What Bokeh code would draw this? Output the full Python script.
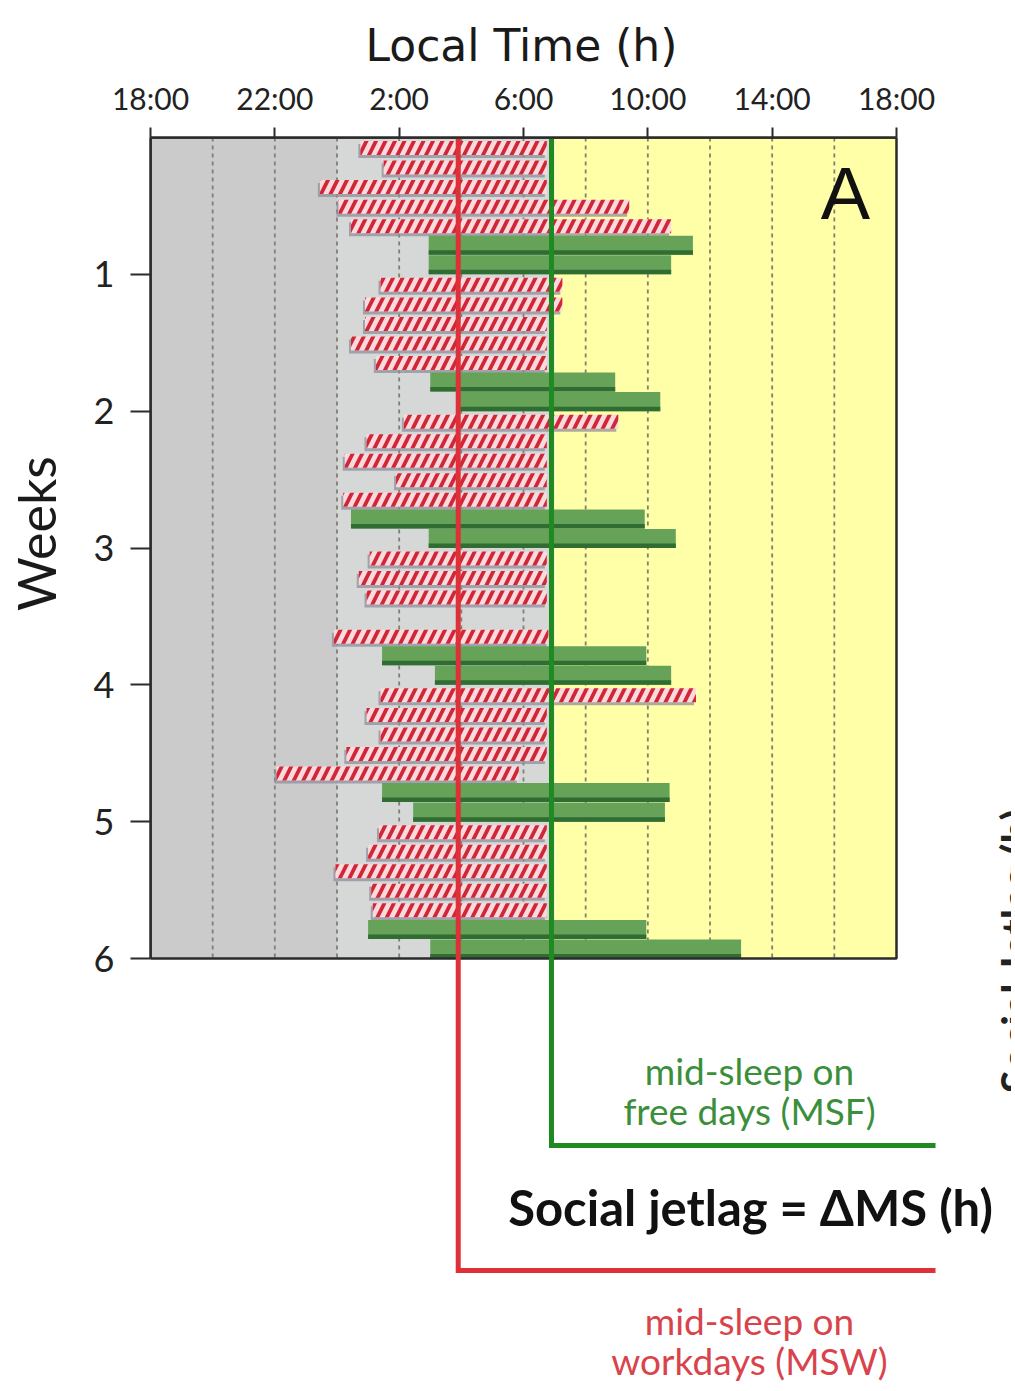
import math
import numpy as np
from bokeh.plotting import figure
from bokeh.models import Range1d, FixedTicker
from bokeh.layouts import row
from bokeh.embed import file_html
from bokeh.resources import INLINE
from bokeh.core.properties import value

nan = float("nan")

# ---------------- data ----------------
# hours on a continuous clock: 18 = 18:00, 24 = midnight, 30 = 6:00, 42 = 18:00 next day
days = list(range(1, 43))
day_type = (["work"] * 5 + ["free"] * 2) * 6
sleep_onset = [24.75, 25.50, 23.45, 24.05, 24.45, 26.95, 26.95,
               25.40, 24.90, 24.90, 24.45, 25.25, 27.00, 27.90,
               26.15, 24.95, 24.25, 25.90, 24.20, 24.45, 26.95,
               25.05, 24.70, 24.95, nan, 23.90, 25.45, 27.15,
               25.40, 24.95, 25.40, 24.30, 22.05, 25.45, 26.45,
               25.35, 25.00, 23.95, 25.10, 25.15, 25.00, 27.00]
wake_up = [30.75, 30.75, 30.75, 33.40, 34.75, 35.45, 34.75,
           31.25, 31.25, 30.75, 30.75, 30.75, 32.95, 34.40,
           33.05, 30.75, 30.75, 30.75, 30.75, 33.90, 34.90,
           30.75, 30.75, 30.75, nan, 30.80, 33.95, 34.75,
           35.55, 30.75, 30.75, 30.75, 29.85, 34.70, 34.55,
           30.75, 30.75, 30.75, 30.75, 30.75, 33.95, 37.00]
msw = 27.9   # mid-sleep on workdays
msf = 30.9   # mid-sleep on free days

x_ticks = [18, 22, 26, 30, 34, 38, 42]
x_tick_labels = ["18:00", "22:00", "2:00", "6:00", "10:00", "14:00", "18:00"]
week_ticks = [1, 2, 3, 4, 5, 6]
grid_hours = [20, 22, 24, 26, 28, 30, 32, 34, 36, 38, 40]
bg_start = [18, 24, 31]
bg_end = [24, 31, 42]

# ---------------- layout (page pixels) ----------------
ORG = 2                      # where the canvas lands on the page
LAB_W = 70                   # narrow strip holding the "Weeks" title
PAGE_R, PAGE_B = 1013, 1389
BOX_L, BOX_R, BOX_T, BOX_B = 152, 898, 139, 960
PX_H = (BOX_R - BOX_L) / 24.0     # px per hour
PX_W = (BOX_B - BOX_T) / 6.0      # px per week
H = PAGE_B - ORG
W_MAIN = PAGE_R - ORG - LAB_W


def hx(px):      # page pixel -> hours
    return 18 + (px - BOX_L) / PX_H


def wy(py):      # page pixel -> weeks
    return (py - BOX_T) / PX_W


FONT = "Lato"
AX = "#2b2b2b"

y_rng = Range1d(wy(PAGE_B), 0)

p = figure(width=W_MAIN, height=H,
           x_range=Range1d(18, hx(PAGE_R)), y_range=y_rng,
           output_backend="svg", toolbar_location=None, x_axis_location="above",
           min_border_left=BOX_L - ORG - LAB_W, min_border_top=BOX_T - ORG,
           min_border_right=0, min_border_bottom=0)
p.outline_line_color = None
p.grid.visible = False
p.background_fill_color = "white"
p.border_fill_color = "white"

# x-axis title as the plot title, placed over the plot box
p.title.text = "Local Time (h)"
p.title.align = "left"
p.title.offset = 215
p.title.standoff = 12
p.title.text_font = "DejaVu Sans"
p.title.text_font_style = "normal"
p.title.text_font_size = "44px"
p.title.text_color = "#1a1a1a"

xa = p.xaxis[0]
xa.ticker = FixedTicker(ticks=x_ticks)
xa.major_label_overrides = {t: l for t, l in zip(x_ticks, x_tick_labels)}
xa.bounds = (18, 42)
xa.major_label_text_font = FONT
xa.major_label_text_font_size = "30px"
xa.major_label_text_color = "#222222"
xa.major_label_standoff = 12
xa.major_tick_out = 10
xa.major_tick_in = 0
xa.minor_tick_out = 0
xa.minor_tick_in = 0
xa.major_tick_line_width = 2
xa.major_tick_line_color = AX
xa.axis_line_width = 2.5
xa.axis_line_color = AX

ya = p.yaxis[0]
ya.ticker = FixedTicker(ticks=week_ticks)
ya.bounds = (0, 6)
ya.major_label_text_font = FONT
ya.major_label_text_font_size = "36px"
ya.major_label_text_color = "#222222"
ya.major_label_standoff = 16
ya.major_tick_out = 20
ya.major_tick_in = 0
ya.minor_tick_out = 0
ya.minor_tick_in = 0
ya.major_tick_line_width = 2
ya.major_tick_line_color = AX
ya.axis_line_width = 2.5
ya.axis_line_color = AX

# background: evening, night, daylight
p.quad(left=bg_start, right=bg_end, top=[0] * 3, bottom=[6] * 3,
       fill_color=["#cbcbcb", "#d6d8d8", "#ffffa8"], line_color=None)

# dashed vertical grid
p.segment(x0=grid_hours, x1=grid_hours, y0=[0] * len(grid_hours), y1=[6] * len(grid_hours),
          line_color="#7f7f74", line_width=1.8, line_dash="4 4")

d = np.array(days, dtype=float)
on = np.array(sleep_onset)
off = np.array(wake_up)
is_work = np.array([t == "work" for t in day_type])
is_free = ~is_work
day_top = (d - 1) / 7
day_bot = d / 7
dy = 1 / PX_W   # one pixel in weeks
dx = 1 / PX_H   # one pixel in hours

# workday bars: shadow + hatched bar
w_top = day_top[is_work] + 3.5 * dy
w_bot = day_top[is_work] + 17.5 * dy
p.quad(left=on[is_work] - 2 * dx, right=off[is_work] - 2 * dx,
       top=w_top + 3 * dy, bottom=w_bot + 3 * dy,
       fill_color="#8f8f9e", fill_alpha=0.75, line_color=None)
p.quad(left=on[is_work], right=off[is_work], top=w_top, bottom=w_bot,
       fill_color="#fbd9dd", line_color=None,
       hatch_pattern="/", hatch_color="#cf2737", hatch_weight=3.8, hatch_scale=19)

# free-day bars: green with darker lower edge
f_top = day_top[is_free] + 0.5 * dy
f_bot = day_bot[is_free]
p.quad(left=on[is_free], right=off[is_free], top=f_top, bottom=f_bot,
       fill_color="#66a257", line_color=None)
p.quad(left=on[is_free], right=off[is_free], top=f_bot - 4.5 * dy, bottom=f_bot,
       fill_color="#2f6d33", line_color=None)

# plot box
p.quad(left=[18], right=[42], top=[0], bottom=[6], fill_color=None,
       line_color=AX, line_width=2.5)

# mid-sleep lines
x_out = hx(937)
y_msf = wy(1147)
y_msw = wy(1272)
p.line(x=[msf, msf, x_out], y=[0, y_msf, y_msf], line_color="#1f8a22", line_width=5,
       line_join="miter")
p.line(x=[msw, msw, x_out], y=[0, y_msw, y_msw], line_color="#de3038", line_width=5,
       line_join="miter")

xc = hx(751)
p.text(x=[xc, xc], y=[wy(1072), wy(1112)],
       text=["mid-sleep on", "free days (MSF)"], text_font=value(FONT),
       text_font_size="37px", text_color="#3b8f3b", text_align="center",
       text_baseline="middle")
p.text(x=[xc, xc], y=[wy(1322), wy(1362)],
       text=["mid-sleep on", "workdays (MSW)"], text_font=value(FONT),
       text_font_size="37px", text_color="#d8434c", text_align="center",
       text_baseline="middle")
p.text(x=[hx(752)], y=[wy(1208)],
       text=["Social jetlag = \u0394MS (h)"], text_font=value(FONT),
       text_font_style="bold", text_font_size="49px", text_color="#111111",
       text_align="center", text_baseline="middle")

# panel letter
p.text(x=[hx(847)], y=[wy(195)], text=["A"],
       text_font=value("Liberation Sans"), text_font_size="74px",
       text_color="#111111", text_align="center", text_baseline="middle")

# neighbouring panel's axis title, cut off at the right edge
p.text(x=[hx(992)], y=[wy(952)], text=["Social Jetlag (h)"],
       angle=math.pi / 2, text_font=value(FONT), text_font_style="bold",
       text_font_size="42px", text_color="#222222", text_align="center",
       text_baseline="top")

# ---------------- strip with the y-axis title ----------------
lab = figure(width=LAB_W, height=H, x_range=Range1d(ORG, ORG + LAB_W), y_range=y_rng,
             output_backend="svg", toolbar_location=None,
             x_axis_location=None, y_axis_location=None,
             min_border_left=0, min_border_right=0,
             min_border_top=BOX_T - ORG, min_border_bottom=0)
lab.outline_line_color = None
lab.grid.visible = False
lab.background_fill_color = "white"
lab.border_fill_color = "white"
lab.text(x=[37], y=[wy(535)], text=["Weeks"], angle=math.pi / 2,
         text_font=value(FONT), text_font_size="52px", text_color="#1a1a1a",
         text_align="center", text_baseline="middle")

layout = row(lab, p, spacing=0)
open("out.html", "w").write(file_html(layout, INLINE))
